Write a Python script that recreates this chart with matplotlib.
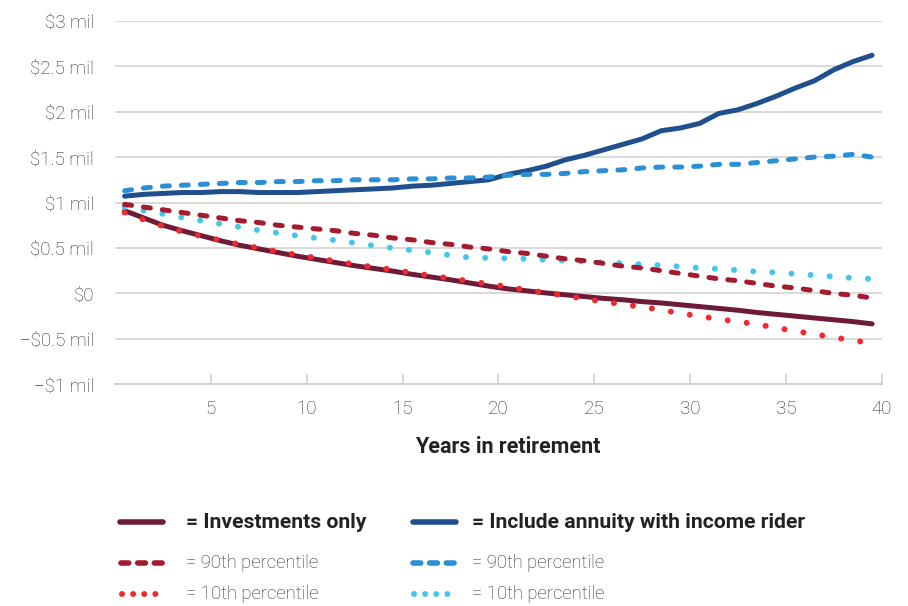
import numpy as np
import matplotlib
matplotlib.use('Agg')
import matplotlib.pyplot as plt
from matplotlib.lines import Line2D

plt.rcParams['font.family'] = ['Roboto', 'DejaVu Sans']

# portfolio value by year of retirement, in $ millions
years = list(range(1, 41))

invest_median = [0.91, 0.83, 0.75, 0.69, 0.635, 0.58, 0.53, 0.49, 0.45, 0.41,
                 0.375, 0.34, 0.305, 0.275, 0.245, 0.21, 0.18, 0.15, 0.115, 0.08,
                 0.05, 0.028, 0.005, -0.015, -0.035, -0.055, -0.07, -0.09, -0.105, -0.125,
                 -0.145, -0.165, -0.185, -0.21, -0.23, -0.25, -0.27, -0.29, -0.31, -0.335]
invest_p90 = [0.98, 0.95, 0.92, 0.89, 0.86, 0.83, 0.80, 0.78, 0.75, 0.73,
              0.71, 0.69, 0.66, 0.64, 0.61, 0.59, 0.56, 0.54, 0.51, 0.49,
              0.46, 0.44, 0.41, 0.38, 0.36, 0.33, 0.30, 0.28, 0.25, 0.22,
              0.19, 0.16, 0.14, 0.11, 0.08, 0.06, 0.03, 0.00, -0.02, -0.05]
invest_p10 = [0.89, 0.81, 0.74, 0.68, 0.63, 0.585, 0.54, 0.50, 0.46, 0.425,
              0.39, 0.355, 0.32, 0.29, 0.26, 0.228, 0.195, 0.165, 0.136, 0.103,
              0.073, 0.037, 0.007, -0.026, -0.059, -0.092, -0.12, -0.15, -0.18, -0.22,
              -0.25, -0.283, -0.31, -0.34, -0.378, -0.415, -0.448, -0.485, -0.514, -0.55]

annuity_median = [1.07, 1.09, 1.10, 1.11, 1.11, 1.12, 1.12, 1.11, 1.11, 1.11,
                  1.12, 1.13, 1.14, 1.15, 1.16, 1.18, 1.19, 1.21, 1.23, 1.25,
                  1.31, 1.35, 1.40, 1.47, 1.52, 1.58, 1.64, 1.70, 1.79, 1.82,
                  1.87, 1.98, 2.02, 2.09, 2.17, 2.26, 2.34, 2.46, 2.55, 2.62]
annuity_p90 = [1.13, 1.16, 1.18, 1.19, 1.20, 1.21, 1.22, 1.22, 1.23, 1.23,
               1.24, 1.24, 1.25, 1.25, 1.25, 1.26, 1.26, 1.27, 1.27, 1.28,
               1.30, 1.31, 1.31, 1.32, 1.34, 1.35, 1.36, 1.38, 1.39, 1.39,
               1.40, 1.42, 1.42, 1.44, 1.46, 1.48, 1.50, 1.51, 1.53, 1.50]
annuity_p10 = [0.95, 0.91, 0.875, 0.835, 0.80, 0.765, 0.73, 0.695, 0.665, 0.635,
               0.61, 0.585, 0.555, 0.525, 0.50, 0.475, 0.45, 0.42, 0.395, 0.39,
               0.385, 0.38, 0.37, 0.36, 0.35, 0.34, 0.33, 0.32, 0.31, 0.295,
               0.28, 0.27, 0.255, 0.24, 0.23, 0.215, 0.20, 0.185, 0.17, 0.16]

y_ticks = [-1, -0.5, 0, 0.5, 1, 1.5, 2, 2.5, 3]
y_labels = ['\u2212$1 mil', '\u2212$0.5 mil', '$0', '$0.5 mil', '$1 mil',
            '$1.5 mil', '$2 mil', '$2.5 mil', '$3 mil']
x_ticks = [5, 10, 15, 20, 25, 30, 35, 40]

MAROON = '#6e1b39'
DARK_RED = '#a41b30'
RED = '#ee2a2f'
NAVY = '#1f4f8d'
BLUE = '#2a8fd4'
SKY = '#43c6ee'
TEXT = '#2c2c2c'

fig = plt.figure(figsize=(9.08, 6.06), dpi=100)
ax = fig.add_axes([0.1267, 0.3658, 0.8443, 0.6])

# category-style x axis: each year sits in the middle of its slot
x = np.array(years) - 0.5

solid = dict(lw=3.6, solid_capstyle='round', solid_joinstyle='round')
dashed = dict(lw=3.6, dash_capstyle='round', dashes=(1.4, 2.4))
dotted = dict(lw=4.3, dash_capstyle='round', dashes=(0.01, 3.2))

ax.plot(x, invest_median, color=MAROON, zorder=3, **solid)
ax.plot(x, annuity_median, color=NAVY, zorder=3, **solid)
ax.plot(x, annuity_p10, color=SKY, zorder=4, **dotted)
ax.plot(x, invest_p90, color=DARK_RED, zorder=5, **dashed)
ax.plot(x, annuity_p90, color=BLUE, zorder=5, **dashed)
ax.plot(x, invest_p10, color=RED, zorder=6, **dotted)

ax.set_xlim(0, 40)
ax.set_ylim(-1, 3)
ax.set_yticks(y_ticks)
ax.set_yticklabels(y_labels, fontweight='light')
ax.set_xticks(x_ticks)
ax.set_xticklabels([str(t) for t in x_ticks], fontweight='light')

ax.grid(axis='y', color='#d9d9d9', lw=1.4)
ax.set_axisbelow(True)
for side in ['top', 'right', 'left']:
    ax.spines[side].set_visible(False)
ax.spines['bottom'].set_color('#d0d0d0')
ax.spines['bottom'].set_linewidth(1.4)

ax.tick_params(axis='y', length=0, pad=15, labelsize=13.5, labelcolor=TEXT)
ax.tick_params(axis='x', direction='in', length=7, width=1.2, color='#d0d0d0',
               pad=11, labelsize=13.5, labelcolor=TEXT)

ax.set_xlabel('Years in retirement', fontsize=15.5, fontweight='bold', color='#222222',
              labelpad=13)
ax.xaxis.label.set_x(0.512)

# legend drawn by hand in figure coordinates
W, H = 908.0, 606.0

def key(x0, x1, y, color, style):
    fig.add_artist(Line2D([x0 / W, x1 / W], [1 - y / H, 1 - y / H], color=color,
                          transform=fig.transFigure, **style))

key(120, 163, 522, MAROON, dict(lw=4, solid_capstyle='round'))
key(413, 456, 522, NAVY, dict(lw=4, solid_capstyle='round'))
key(121, 163, 563, DARK_RED, dict(lw=4, dash_capstyle='round', dashes=(1.4, 1.6)))
key(413, 456, 563, BLUE, dict(lw=4, dash_capstyle='round', dashes=(1.4, 1.6)))
key(122, 163, 594, RED, dict(lw=4.3, dash_capstyle='round', dashes=(0.01, 1.85)))
key(414, 456, 594, SKY, dict(lw=4.3, dash_capstyle='round', dashes=(0.01, 1.85)))

fig.text(186 / W, 1 - 522 / H, '= Investments only', fontsize=15.2, fontweight='bold',
         color='#222222', va='center')
fig.text(472 / W, 1 - 522 / H, '= Include annuity with income rider', fontsize=15.2,
         fontweight='bold', color='#222222', va='center')
for xt in [186, 472]:
    fig.text(xt / W, 1 - 563 / H, '= 90th percentile', fontsize=13.3, fontweight='light',
             color=TEXT, va='center')
    fig.text(xt / W, 1 - 594 / H, '= 10th percentile', fontsize=13.3, fontweight='light',
             color=TEXT, va='center')

fig.savefig('out.png', dpi=100)
